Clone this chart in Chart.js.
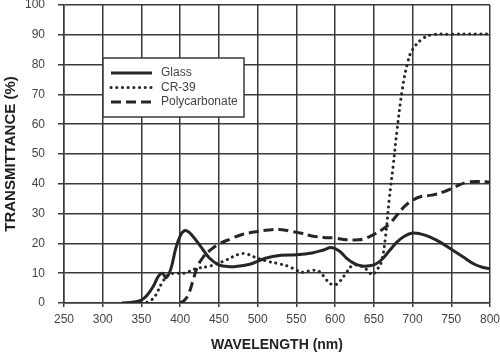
<!DOCTYPE html>
<html>
<head>
<meta charset="utf-8">
<script src="https://cdn.jsdelivr.net/npm/chart.js@4.4.1/dist/chart.umd.min.js"></script>
<style>
  html, body { margin: 0; padding: 0; background: #fff; }
  #wrap { width: 500px; height: 353px; }
</style>
</head>
<body>
<div id="wrap"><canvas id="c"></canvas></div>
<script>
// ── data ──
const xTicks = [250, 300, 350, 400, 450, 500, 550, 600, 650, 700, 750, 800];
const yTicks = [0, 10, 20, 30, 40, 50, 60, 70, 80, 90, 100];

const seriesNames = ['Glass', 'CR-39', 'Polycarbonate'];

const glassNm = [325, 340, 350, 357, 365, 372, 377, 382, 388, 394, 400, 405, 410, 416, 425, 438, 450, 460, 470, 490,
                 510, 530, 550, 570, 585, 595, 605, 615, 625, 635, 645, 652, 660, 670, 680, 690, 700, 710, 722, 735,
                 750, 765, 780, 790, 800];
const glassT  = [0, 0.3, 1, 2.5, 5.5, 9, 10, 8.5, 11.5, 18, 22.5, 24.2, 24, 22.5, 19.5, 15, 12.8, 12.3, 12.2, 13,
                 15, 16, 16.2, 16.8, 17.8, 18.6, 17.5, 15, 13.2, 12.4, 12.5, 13, 14.5, 17.5, 20.5, 22.5, 23.5, 23.2, 22.2, 20.5,
                 18, 15.5, 13, 12, 11.5];

const cr39Nm = [350, 360, 368, 376, 385, 395, 405, 420, 440, 460, 475, 485, 495, 510, 525, 540, 550, 560, 570, 580,
                588, 595, 601, 607, 614, 622, 632, 642, 648, 655, 660, 665, 670, 675, 680, 687, 694, 700, 712, 725,
                750, 800];
const cr39T  = [0, 0.5, 2.5, 6.5, 9.5, 10, 10, 11.5, 12.5, 14.5, 16.3, 16.5, 15.5, 14.2, 13.3, 12.3, 11, 10.3, 11, 10.5,
                8, 6.3, 6.2, 7.5, 10, 12.5, 12.5, 11, 9.5, 11.5, 14, 22, 35, 46, 58, 72, 81, 85, 88.5, 90,
                90.2, 90.3];

const polyNm = [400, 405, 410, 416, 422, 430, 440, 450, 465, 480, 500, 515, 528, 540, 555, 570, 585, 600, 615, 630,
                640, 650, 660, 670, 680, 690, 700, 712, 725, 740, 755, 770, 785, 800];
const polyT  = [0, 0.8, 2.5, 7, 12, 15.5, 18, 19.8, 21.5, 23, 24, 24.5, 24.7, 24.2, 23.5, 22.5, 22, 21.8, 21.2, 21.2,
                21.8, 23, 24.5, 26.5, 29.5, 32.5, 34.5, 35.8, 36.2, 37.3, 39, 40.5, 40.8, 40.6];

const pts = (xs, ys) => xs.map((x, i) => ({ x, y: ys[i] }));

const INK = '#262626';
const GRID = '#3a3a3a';
const TXT = '#444';
const FONT = '"Liberation Sans", Arial, sans-serif';

// legend drawn inside the plot, boxed like the original
const boxLegend = {
  id: 'boxLegend',
  afterDraw(chart, args, o) {
    const ctx = chart.ctx;
    ctx.save();
    ctx.fillStyle = '#fff';
    ctx.fillRect(o.x, o.y, o.w, o.h);
    ctx.strokeStyle = GRID;
    ctx.lineWidth = 1.5;
    ctx.strokeRect(o.x, o.y, o.w, o.h);
    chart.data.datasets.forEach((ds, i) => {
      const y = o.y + o.first + i * o.step;
      ctx.beginPath();
      ctx.setLineDash(ds.borderDash || []);
      ctx.lineCap = ds.borderCapStyle || 'butt';
      ctx.lineWidth = ds.borderWidth;
      ctx.strokeStyle = ds.borderColor;
      ctx.moveTo(o.x + 8, y);
      ctx.lineTo(o.x + 49, y);
      ctx.stroke();
      ctx.setLineDash([]);
      ctx.fillStyle = TXT;
      ctx.font = '12px ' + FONT;
      ctx.textBaseline = 'middle';
      ctx.fillText(ds.label, o.x + 58, y);
    });
    ctx.restore();
  }
};

new Chart(document.getElementById('c'), {
  type: 'line',
  data: {
    datasets: [
      { label: seriesNames[0], data: pts(glassNm, glassT), borderColor: INK, borderWidth: 3,
        tension: 0.4, pointRadius: 0 },
      { label: seriesNames[1], data: pts(cr39Nm, cr39T), borderColor: INK, borderWidth: 3,
        borderDash: [0.1, 5.6], borderCapStyle: 'round', tension: 0.4, pointRadius: 0 },
      { label: seriesNames[2], data: pts(polyNm, polyT), borderColor: INK, borderWidth: 3,
        borderDash: [10, 5], tension: 0.4, pointRadius: 0 }
    ]
  },
  options: {
    responsive: true, maintainAspectRatio: false,
    animation: false,
    layout: { padding: { left: 2, right: 10, top: 5, bottom: -1 } },
    plugins: {
      legend: { display: false },
      tooltip: { enabled: false },
      boxLegend: { x: 103, y: 58, w: 141, h: 59, first: 15, step: 14.5 }
    },
    scales: {
      x: {
        type: 'linear', min: 250, max: 800,
        afterBuildTicks: s => { s.ticks = xTicks.map(v => ({ value: v })); },
        afterFit: s => { s.height = 51; s.paddingLeft = 0; s.paddingRight = 0; },
        ticks: { color: TXT, font: { size: 12, family: FONT }, padding: 5, maxRotation: 0 },
        grid: { color: GRID, lineWidth: 1.5, tickLength: 4 },
        border: { color: GRID, width: 1.5 },
        title: { display: true, text: 'WAVELENGTH (nm)', color: '#222',
                 font: { size: 14, weight: 'bold', family: FONT }, padding: { top: 6, bottom: 0 } }
      },
      y: {
        min: 0, max: 100,
        afterBuildTicks: s => { s.ticks = yTicks.map(v => ({ value: v })); },
        afterFit: s => { s.width = 62; s.paddingTop = 0; s.paddingBottom = 0; },
        ticks: { color: TXT, font: { size: 12, family: FONT }, padding: 13 },
        grid: { color: GRID, lineWidth: 1.5, tickLength: 6 },
        border: { color: GRID, width: 1.5 },
        title: { display: true, text: 'TRANSMITTANCE (%)', color: '#222',
                 font: { size: 15, weight: 'bold', family: FONT }, padding: { top: 0, bottom: 0 } }
      }
    }
  },
  plugins: [boxLegend]
});
</script>
</body>
</html>
